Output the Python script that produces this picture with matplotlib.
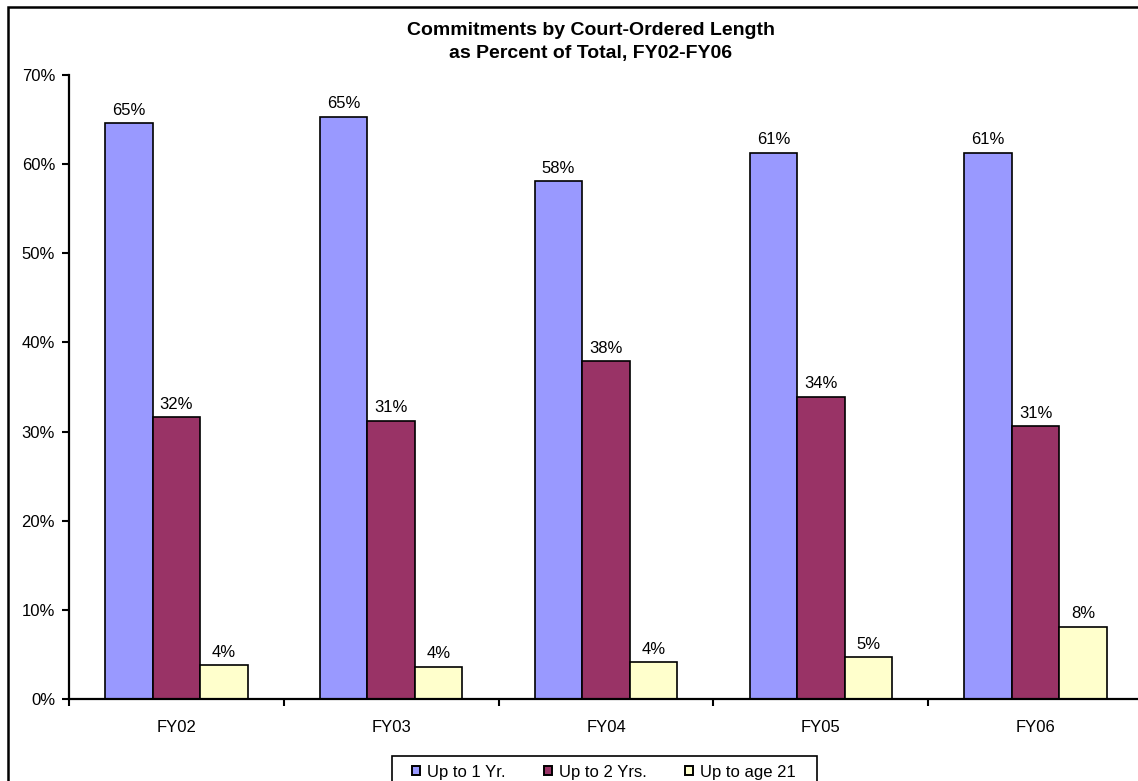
import numpy as np
import matplotlib
matplotlib.use("Agg")
import matplotlib.pyplot as plt
from matplotlib.patches import Rectangle

plt.rcParams["font.family"] = ["Liberation Sans", "DejaVu Sans"]

years = ["FY02", "FY03", "FY04", "FY05", "FY06"]
series_names = ["Up to 1 Yr.", "Up to 2 Yrs.", "Up to age 21"]
up_to_1yr = [64.6, 65.3, 58.1, 61.3, 61.3]
up_to_2yrs = [31.6, 31.2, 37.9, 33.9, 30.6]
up_to_age21 = [3.8, 3.6, 4.1, 4.7, 8.1]
colors = ["#9999ff", "#993366", "#ffffcc"]

W, H = 1138, 781
fig = plt.figure(figsize=(W / 100, H / 100), dpi=100)
ax = fig.add_axes([69 / W, (H - 699) / H, (1143 - 69) / W, (699 - 75) / H])

fs = 12
x = np.arange(len(years))
width = 0.221
for i, (vals, name, col) in enumerate(zip([up_to_1yr, up_to_2yrs, up_to_age21], series_names, colors)):
    bars = ax.bar(x + (i - 1) * width, vals, width, color=col, edgecolor="black",
                  linewidth=1.2, label=name)
    ax.bar_label(bars, labels=[f"{v:.0f}%" for v in vals], padding=4, fontsize=fs)

ax.set_xlim(-0.5, len(years) - 0.5)
ax.set_ylim(0, 70)
ax.set_yticks(np.arange(0, 71, 10))
ax.set_yticklabels([f"{v}%" for v in range(0, 71, 10)], fontsize=fs)
ax.set_xticks(x)
ax.set_xticklabels(years, fontsize=fs)
ax.set_xticks(np.arange(-0.5, len(years), 1), minor=True)
ax.tick_params(axis="x", which="major", length=0, pad=15)
ax.tick_params(axis="x", which="minor", length=5, width=1.5, direction="out")
ax.tick_params(axis="y", length=5, width=1.5, pad=5)
for s in ["top", "right"]:
    ax.spines[s].set_visible(False)
for s in ["left", "bottom"]:
    ax.spines[s].set_linewidth(1.6)

fig.text(591 / W, 1 - 42 / H, "Commitments by Court-Ordered Length\nas Percent of Total, FY02-FY06",
         ha="center", va="center", fontsize=14, fontweight="bold", linespacing=1.5)

# legend without its own frame; the box is drawn separately
leg = fig.legend(loc="center left", bbox_to_anchor=(412 / W, 1 - 772 / H), ncol=3,
                 fontsize=fs, frameon=False,
                 handlelength=0.48, handleheight=0.48, handletextpad=0.42, columnspacing=2.3,
                 borderpad=0, borderaxespad=0)
for h in leg.legend_handles:
    h.set_linewidth(1.4)
fig.patches.append(Rectangle((392 / W, -0.1), (817 - 392) / W, 0.1 + (H - 756) / H,
                             transform=fig.transFigure, fill=False, edgecolor="black", linewidth=1.2))

fig.patches.append(Rectangle((8 / W, -0.1), 1.2, 1.1 - 7 / H, transform=fig.transFigure,
                             fill=False, edgecolor="black", linewidth=1.8))

fig.savefig("out.png", dpi=100)
